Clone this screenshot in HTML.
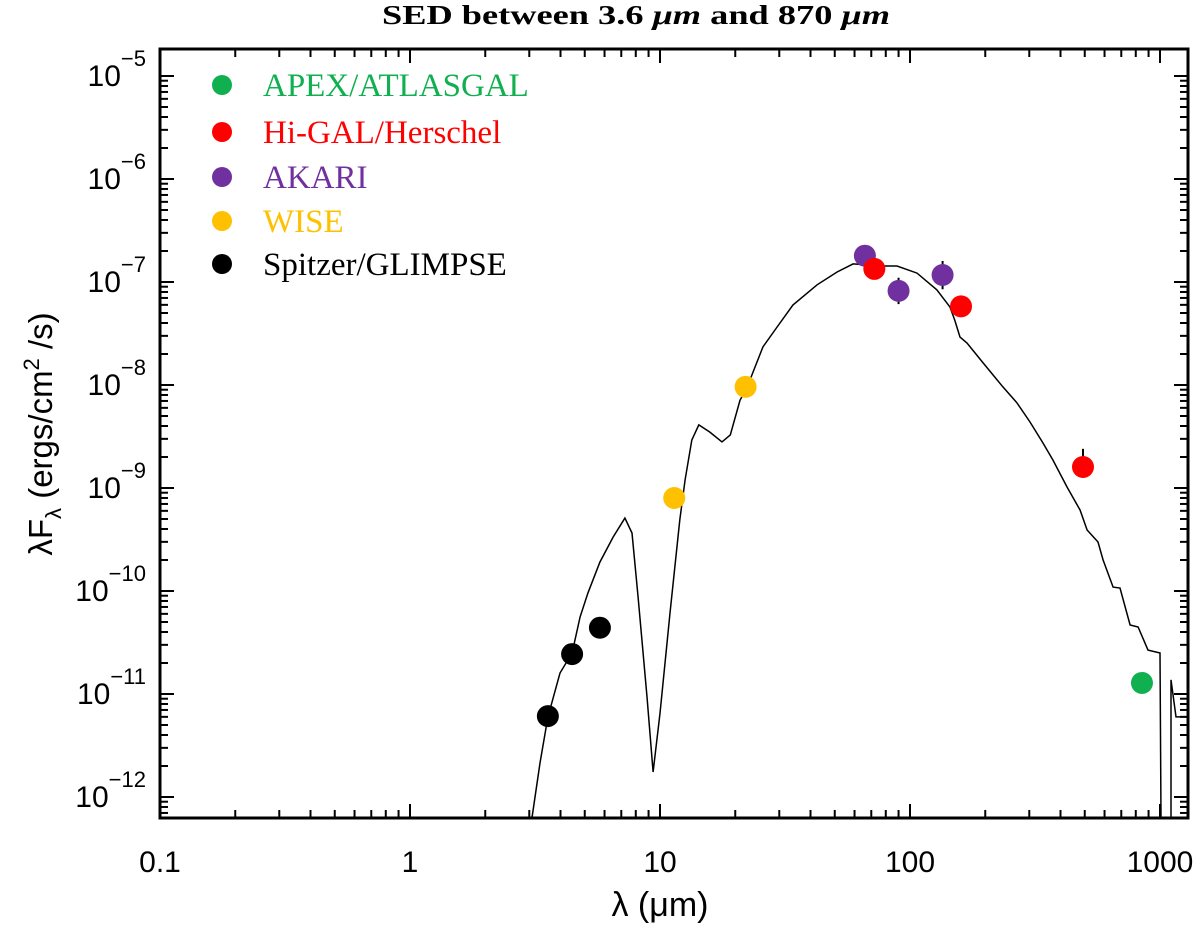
<!DOCTYPE html>
<html><head><meta charset="utf-8"><style>
body{margin:0;background:#fff}
svg text{font-family:"Liberation Sans",sans-serif}
</style></head><body>
<svg id="chart" width="1200" height="924" xmlns="http://www.w3.org/2000/svg">
<defs><clipPath id="clip"><rect x="160" y="49" width="1028" height="769"/></clipPath></defs>
<text x="636" y="24" text-anchor="middle" textLength="508" lengthAdjust="spacingAndGlyphs" style="font-family:'Liberation Serif',serif;font-weight:bold;font-size:27px">SED between 3.6 <tspan font-style="italic">μm</tspan> and 870 <tspan font-style="italic">μm</tspan></text>
<g id="axes"></g>
<g id="curve" clip-path="url(#clip)"></g>
<g id="points"></g>
<g id="legend"></g>
<text x="660" y="916" text-anchor="middle" font-size="34">λ (μm)</text>
<text transform="translate(52,434) rotate(-90)" text-anchor="middle" font-size="33">λF<tspan font-size="22" dy="9">λ</tspan><tspan dy="-9"> (ergs/cm</tspan><tspan font-size="22" dy="-13">2</tspan><tspan dy="13"> /s)</tspan></text>
</svg>
<script>
const xTicks=[0.1,1,10,100,1000];
const xTickLabels=["0.1","1","10","100","1000"];
const yTickExps=[-12,-11,-10,-9,-8,-7,-6,-5];
const curveLambda=[3.08,3.31,3.56,3.98,4.45,4.79,5.15,5.75,6.49,7.24,7.73,8.17,8.87,9.38,10.0,10.96,12.0,12.6,13.4,14.3,15.8,17.7,19.1,20.9,22.3,22.9,25.8,29.4,34.0,42.5,51.1,59.2,78.0,88.7,106.7,128,144.5,151,158.5,169,196,235,268,302,340,373,425,479,511,565,592,649,692,759,817,895,1000,1009,1107,1107,1159,1294];
const curveFlux=[6.4e-13,2.14e-12,5.98e-12,1.6e-11,2.5e-11,5.6e-11,9.6e-11,1.91e-10,3.34e-10,5.1e-10,3.66e-10,8.7e-11,9.4e-12,1.75e-12,6.5e-12,6.1e-11,4.9e-10,1.2e-9,2.92e-9,4.1e-9,3.5e-9,2.8e-9,3.27e-9,7.1e-9,9.6e-9,1.12e-8,2.34e-8,3.66e-8,5.98e-8,9.4e-8,1.25e-7,1.5e-7,1.43e-7,1.43e-7,1.22e-7,8.4e-8,5.7e-8,4.28e-8,2.92e-8,2.56e-8,1.64e-8,9.6e-9,6.7e-9,4.37e-9,2.74e-9,1.87e-9,1.02e-9,6.1e-10,3.91e-10,2.99e-10,2.0e-10,1.09e-10,1.07e-10,4.68e-11,4.47e-11,2.67e-11,2.5e-11,6.2e-13,6.2e-13,1.37e-11,6.0e-12,6.0e-12];
const seriesNames=["APEX/ATLASGAL","Hi-GAL/Herschel","AKARI","WISE","Spitzer/GLIMPSE"];
const seriesColors=["#10b050","#ff0000","#7030a0","#ffc000","#000000"];
const apexLambda=[847], apexFlux=[1.28e-11];
const higalLambda=[72,160,492], higalFlux=[1.34e-7,5.8e-8,1.6e-9], higalErrHi=[1.34e-7,5.8e-8,2.4e-9], higalErrLo=[1.34e-7,5.8e-8,1.6e-9];
const akariLambda=[66,90,135], akariFlux=[1.8e-7,8.2e-8,1.17e-7], akariErrHi=[1.8e-7,1.1e-7,1.6e-7], akariErrLo=[1.8e-7,6.1e-8,8.5e-8];
const wiseLambda=[11.4,22], wiseFlux=[8e-10,9.6e-9];
const spitzerLambda=[3.56,4.45,5.75], spitzerFlux=[6.1e-12,2.44e-11,4.4e-11];

const NS="http://www.w3.org/2000/svg";
const L=160,R=1188,T=49,B=818;
function X(v){return 160+250*(Math.log10(v)+1);}
function Y(v){return 797-103*(Math.log10(v)+12);}
function mk(tag,attrs,parent){const e=document.createElementNS(NS,tag);for(const k in attrs)e.setAttribute(k,attrs[k]);parent.appendChild(e);return e;}
const axes=document.getElementById('axes');
const frame=mk('rect',{x:L,y:T,width:R-L,height:B-T,fill:'none',stroke:'#000','stroke-width':3},axes);


for(let d=-1;d<=3;d++){for(let m=1;m<=9;m++){const v=m*Math.pow(10,d);const x=X(v);if(x>R)continue;const len=m===1?14:8;
 const t1=mk('line',{x1:x,x2:x,y1:B,y2:B-len,stroke:'#000','stroke-width':2},axes);
 
 
 const t2=mk('line',{x1:x,x2:x,y1:T,y2:T+len,stroke:'#000','stroke-width':2},axes);
 
 }}
xTicks.forEach((v,i)=>{const t=mk('text',{x:X(v),y:B+54,'text-anchor':'middle','font-size':30},axes);t.textContent=xTickLabels[i];
 
 });
for(let e=-13;e<=-5;e++){for(let m=1;m<=9;m++){const v=m*Math.pow(10,e);const y=Y(v);if(y>B||y<T)continue;const len=m===1?14:8;
 const t1=mk('line',{x1:L,x2:L+len,y1:y,y2:y,stroke:'#000','stroke-width':2},axes);
 
 
 const t2=mk('line',{x1:R,x2:R-len,y1:y,y2:y,stroke:'#000','stroke-width':2},axes);
 
 }}
yTickExps.forEach(e=>{const y=Y(Math.pow(10,e));const t=mk('text',{x:146,y:y+10,'text-anchor':'end','font-size':30},axes);
 t.innerHTML='10<tspan font-size="22" dy="-20">−'+(-e)+'</tspan>';
 
 });
const cg=document.getElementById('curve');
let d='';curveLambda.forEach((l,i)=>{d+=(i?'L':'M')+X(l).toFixed(1)+','+Y(curveFlux[i]).toFixed(1);});
const p=mk('path',{d:d,fill:'none',stroke:'#000','stroke-width':1.5},cg);


const pg=document.getElementById('points');
function errs(ls,hi,lo,name){ls.forEach((l,i)=>{const e=mk('line',{x1:X(l),x2:X(l),y1:Y(hi[i]),y2:Y(lo[i]),stroke:'#000','stroke-width':2},pg);
 
 });}
errs(higalLambda,higalErrHi,higalErrLo,'higal');
errs(akariLambda,akariErrHi,akariErrLo,'akari');
function pts(ls,fs,color,name){ls.forEach((l,i)=>{const c=mk('circle',{cx:X(l),cy:Y(fs[i]),r:11,fill:color},pg);
 
 });}
pts(spitzerLambda,spitzerFlux,seriesColors[4],'spitzer');
pts(wiseLambda,wiseFlux,seriesColors[3],'wise');
pts(akariLambda,akariFlux,seriesColors[2],'akari');
pts(higalLambda,higalFlux,seriesColors[1],'higal');
pts(apexLambda,apexFlux,seriesColors[0],'apex');
const lg=document.getElementById('legend');
const ly=[85,132,177,221,264];
seriesNames.forEach((n,i)=>{const g=mk('g',{},lg);
 
 
 mk('circle',{cx:222,cy:ly[i],r:10,fill:seriesColors[i]},g);
 const t=mk('text',{x:263,y:ly[i]+11,fill:seriesColors[i],'font-size':33,style:"font-family:'Liberation Serif',serif"},g);t.textContent=n;});
</script>
</body></html>
